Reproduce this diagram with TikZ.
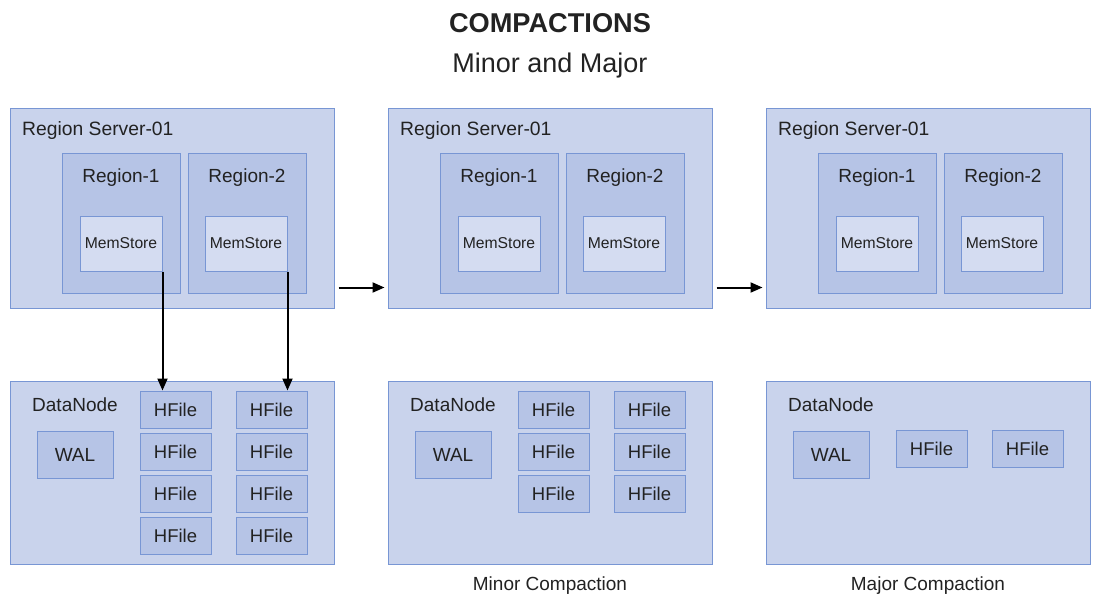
\documentclass[tikz,border=0pt]{standalone}
\usepackage{fontspec}
\setmainfont{Liberation Sans}
\usetikzlibrary{arrows.meta}
\definecolor{boxline}{RGB}{120,150,212}
\definecolor{outerfill}{RGB}{201,211,236}
\definecolor{regionfill}{RGB}{182,196,230}
\definecolor{storefill}{RGB}{212,220,241}
\definecolor{textgray}{RGB}{34,34,34}
\begin{document}
\begin{tikzpicture}[x=1pt,y=-1pt,>={Triangle[length=12pt,width=10pt]},text=textgray]
    \tikzstyle{box}=[draw=boxline,line width=1pt,inner sep=0pt]
    \tikzstyle{server}=[box,fill=outerfill,minimum width=324pt,minimum height=200pt]
    \tikzstyle{datanode}=[box,fill=outerfill,minimum width=324pt,minimum height=183pt]
    \tikzstyle{region}=[box,fill=regionfill,minimum width=118pt,minimum height=140pt]
    \tikzstyle{memstore}=[box,fill=storefill,minimum width=82pt,minimum height=55pt,font=\fontsize{15.7}{18}\selectfont]
    \tikzstyle{wal}=[box,fill=regionfill,minimum width=76pt,minimum height=47pt,font=\fontsize{19}{22}\selectfont]
    \tikzstyle{hfile}=[box,fill=regionfill,minimum width=71pt,minimum height=37pt,font=\fontsize{18.5}{22}\selectfont]
    \tikzstyle{caption}=[anchor=base,inner sep=0pt,font=\fontsize{19}{22}\selectfont]
    \tikzstyle{flow}=[->,line width=2pt,black]
    \useasboundingbox (0,0) rectangle (1096,595);
    % Draw the title
    \node[anchor=base,inner sep=0pt,font=\fontsize{27.2}{30}\selectfont\bfseries] (title) at (550,32) {COMPACTIONS};
    \node[anchor=base,inner sep=0pt,font=\fontsize{27}{30}\selectfont] (subtitle) at (550,72) {Minor and Major};
    % Draw the region servers and data nodes
    \foreach \p in {0,1,2} {
        \node[server] (S-\p) at (172+378*\p,208) {};
        \node[caption,anchor=base west,font=\fontsize{19.3}{22}\selectfont] (SL-\p) at (22+378*\p,135) {Region Server-01};
        \node[region] (R1-\p) at (121+378*\p,223) {};
        \node[region] (R2-\p) at (247+378*\p,223) {};
        \node[caption] (RL1-\p) at (121+378*\p,182) {Region-1};
        \node[caption] (RL2-\p) at (247+378*\p,182) {Region-2};
        \node[memstore] (M1-\p) at (121+378*\p,243.5) {MemStore};
        \node[memstore] (M2-\p) at (246+378*\p,243.5) {MemStore};
        \node[datanode] (D-\p) at (172+378*\p,472.5) {};
        \node[caption,anchor=base west] (DL-\p) at (32+378*\p,411) {DataNode};
        \node[wal] (W-\p) at (75+378*\p,454.5) {WAL};
    }
    % Draw the HFiles
    \foreach \p/\n in {0/4,1/3}
        \foreach \c in {0,1}
            \foreach \r in {1,...,\n}
                \node[hfile] (H-\p-\c-\r) at (175.5+96*\c+378*\p,367.5+42*\r) {HFile};
    \node[hfile] (H-2-0-1) at (931.5,448.5) {HFile};
    \node[hfile] (H-2-1-1) at (1027.5,448.5) {HFile};
    % Captions under the panels
    \node[caption] (C-1) at (550,590) {Minor Compaction};
    \node[caption] (C-2) at (928,590) {Major Compaction};
    % Flushes and compaction steps
    \draw[flow] (M1-0.south east) -- (M1-0.south east |- H-0-0-1.north);
    \draw[flow] (M2-0.south east) -- (M2-0.south east |- H-0-1-1.north);
    \draw[flow] ([xshift=4pt,yshift=21pt]S-0.south east) -- ([xshift=-3pt,yshift=21pt]S-1.south west);
    \draw[flow] ([xshift=4pt,yshift=21pt]S-1.south east) -- ([xshift=-3pt,yshift=21pt]S-2.south west);
\end{tikzpicture}
\end{document}
